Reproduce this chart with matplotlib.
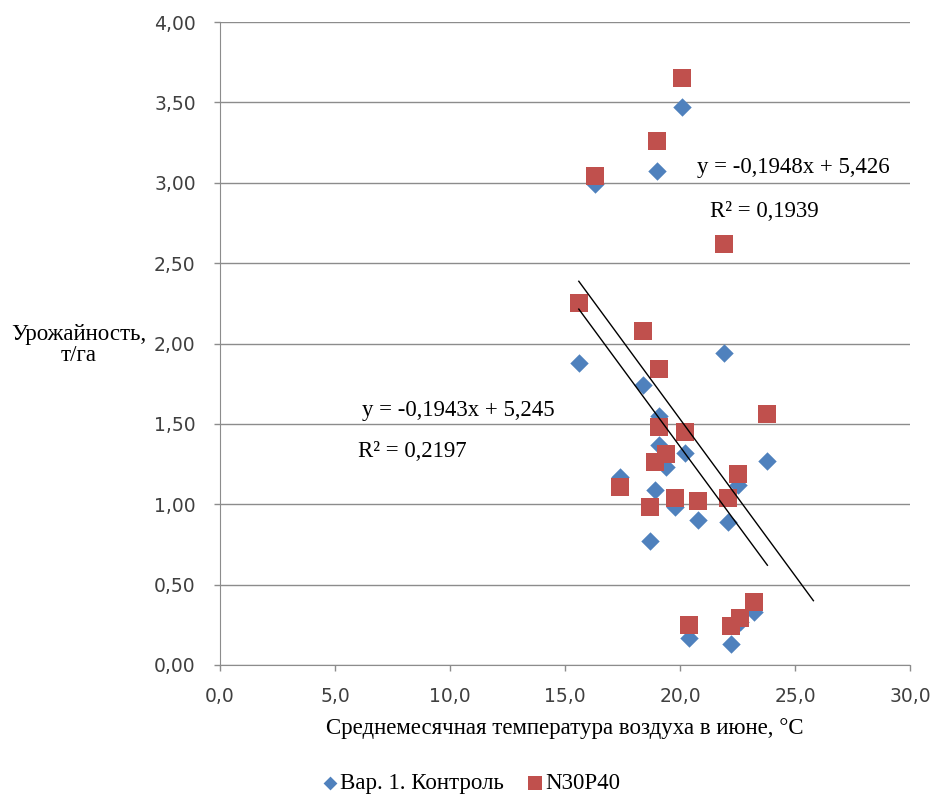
import matplotlib.pyplot as plt
import numpy as np

# June mean air temperature (x) and yield (y)
ctrl_x = [20.1, 19.0, 16.3, 15.6, 21.9, 18.4, 19.1, 19.1, 20.2, 19.4, 23.8, 17.4,
          22.5, 18.9, 19.8, 20.8, 22.1, 18.7, 20.4, 22.2, 23.2, 22.6]
ctrl_y = [3.47, 3.07, 2.99, 1.88, 1.94, 1.74, 1.55, 1.37, 1.32, 1.23, 1.27, 1.17,
          1.12, 1.09, 0.98, 0.90, 0.89, 0.77, 0.17, 0.13, 0.33, 0.27]
npk_x = [20.1, 19.0, 16.3, 21.9, 15.6, 18.4, 19.1, 19.1, 20.2, 23.8, 19.4, 18.9,
         17.4, 22.5, 19.8, 20.8, 22.1, 18.7, 20.4, 22.2, 22.6, 23.2]
npk_y = [3.65, 3.26, 3.04, 2.62, 2.25, 2.08, 1.84, 1.48, 1.45, 1.56, 1.31, 1.26,
         1.11, 1.19, 1.04, 1.02, 1.04, 0.98, 0.25, 0.24, 0.29, 0.39]

# trendlines: slope, intercept, x range
ctrl_trend = (-0.1943, 5.245, 15.6, 23.8)
npk_trend = (-0.1948, 5.426, 15.6, 25.8)
ctrl_eq = ['y = -0,1943x + 5,245', 'R² = 0,2197']
npk_eq = ['y = -0,1948x + 5,426', 'R² = 0,1939']

labels = ['Вар. 1. Контроль', 'N30P40']
xticks = [0, 5, 10, 15, 20, 25, 30]
yticks = [0, 0.5, 1, 1.5, 2, 2.5, 3, 3.5, 4]

blue = '#4F81BD'
red = '#C0504D'
grey = '#8C8C8C'
serif = 'Liberation Serif'

fig = plt.figure(figsize=(9.32, 7.95), dpi=100)
ax = fig.add_axes([220/932, 1-665/795, 690/932, 643/795])

ax.scatter(ctrl_x, ctrl_y, marker='D', s=88, color=blue, linewidths=0, zorder=3, label=labels[0])
ax.scatter(npk_x, npk_y, marker='s', s=165, color=red, linewidths=0, zorder=4, label=labels[1])

for k, b, x0, x1 in [ctrl_trend, npk_trend]:
    xs = np.array([x0, x1])
    ax.plot(xs, k*xs + b, color='black', lw=1.0, zorder=5)

ax.text(6.17, 1.586, ctrl_eq[0], family=serif, fontsize=16.4, ha='left', va='center')
ax.text(6.0, 1.331, ctrl_eq[1], family=serif, fontsize=16.4, ha='left', va='center')
ax.text(20.74, 3.092, npk_eq[0], family=serif, fontsize=16.4, ha='left', va='center')
ax.text(21.3, 2.824, npk_eq[1], family=serif, fontsize=16.4, ha='left', va='center')

ax.set_xlim(0, 30)
ax.set_ylim(0, 4)
ax.set_xticks(xticks)
ax.set_xticklabels([f'{v:.1f}'.replace('.', ',') for v in xticks])
ax.set_yticks(yticks)
ax.set_yticklabels([f'{v:.2f}'.replace('.', ',') for v in yticks])
ax.tick_params(axis='both', labelsize=13.5, colors=grey, labelcolor='#404040', length=4.5, width=1)
ax.tick_params(axis='y', pad=13)
ax.tick_params(axis='x', pad=11)
ax.grid(axis='y', color=grey, lw=1)
ax.set_axisbelow(True)
for s in ['top', 'right']:
    ax.spines[s].set_visible(False)
for s in ['left', 'bottom']:
    ax.spines[s].set_color(grey)

ax.set_xlabel('Среднемесячная температура воздуха в июне, °С', family=serif, fontsize=16.5, labelpad=9)
fig.text(79/932, 1-345/795, 'Урожайность,\nт/га', family=serif, fontsize=16.5,
         ha='center', va='center', multialignment='center', linespacing=1.0)

leg = fig.legend(loc='center', bbox_to_anchor=(470/932, 1-783/795), ncol=2, frameon=False,
                 prop={'family': serif, 'size': 16.5}, handletextpad=0.0, handlelength=0.9,
                 columnspacing=0.9, markerscale=0.75)

fig.savefig('out.png', dpi=100)
